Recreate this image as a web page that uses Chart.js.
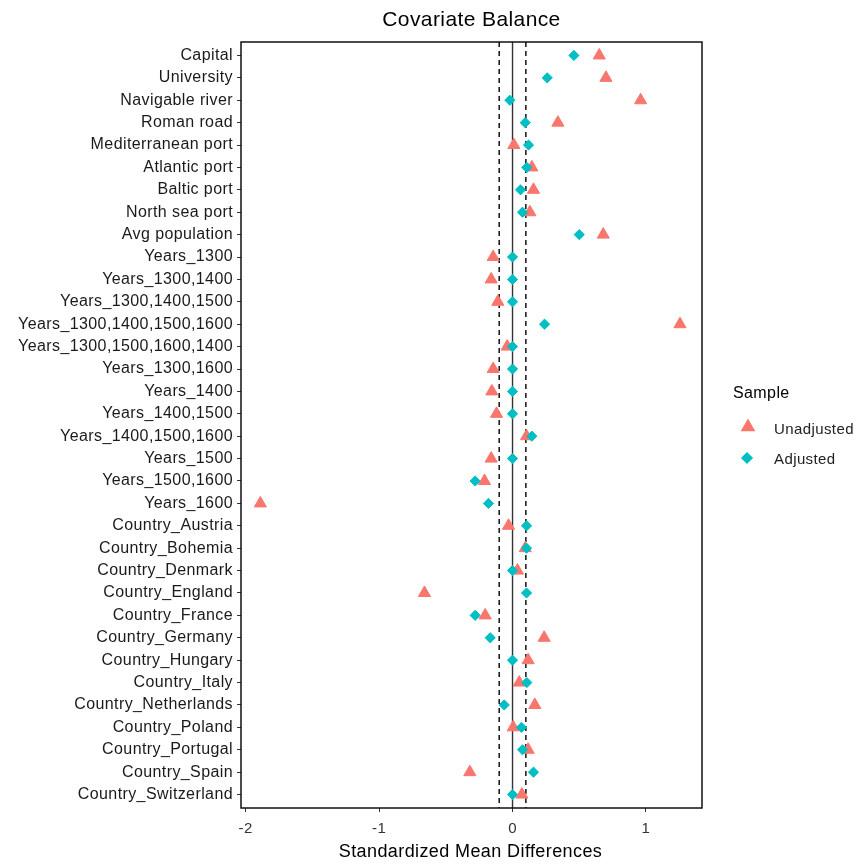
<!DOCTYPE html>
<html>
<head>
<meta charset="utf-8">
<script src="https://cdn.jsdelivr.net/npm/chart.js@4.4.1/dist/chart.umd.min.js"></script>
<style>
html,body{margin:0;padding:0;background:#fff;}
#wrap{width:862px;height:865px;position:relative;}
</style>
</head>
<body>
<div id="wrap"><canvas id="c"></canvas></div>
<script>
const chartTitle = "Covariate Balance";
const xAxisTitle = "Standardized Mean Differences";
const legendTitle = "Sample";
const seriesNames = ["Unadjusted", "Adjusted"];

const categories = [
  "Capital", "University", "Navigable river", "Roman road", "Mediterranean port",
  "Atlantic port", "Baltic port", "North sea port", "Avg population",
  "Years_1300", "Years_1300,1400", "Years_1300,1400,1500", "Years_1300,1400,1500,1600",
  "Years_1300,1500,1600,1400", "Years_1300,1600", "Years_1400", "Years_1400,1500",
  "Years_1400,1500,1600", "Years_1500", "Years_1500,1600", "Years_1600",
  "Country_Austria", "Country_Bohemia", "Country_Denmark", "Country_England",
  "Country_France", "Country_Germany", "Country_Hungary", "Country_Italy",
  "Country_Netherlands", "Country_Poland", "Country_Portugal", "Country_Spain",
  "Country_Switzerland"
];

const unadjusted = [
  0.65, 0.70, 0.96, 0.34, 0.01,
  0.145, 0.157, 0.13, 0.68,
  -0.145, -0.16, -0.11, 1.255,
  -0.04, -0.145, -0.155, -0.12,
  0.105, -0.16, -0.21, -1.89,
  -0.03, 0.095, 0.037, -0.66,
  -0.205, 0.237, 0.117, 0.05,
  0.167, 0.005, 0.117, -0.32,
  0.07
];

const adjusted = [
  0.46, 0.26, -0.02, 0.095, 0.12,
  0.107, 0.06, 0.075, 0.50,
  0.0, 0.0, 0.0, 0.24,
  0.0, 0.0, 0.0, 0.0,
  0.145, 0.0, -0.28, -0.18,
  0.105, 0.105, 0.0, 0.105,
  -0.28, -0.167, 0.0, 0.107,
  -0.062, 0.067, 0.075, 0.157,
  0.0
];

const xTicks = [-2, -1, 0, 1];
const zeroLine = 0;
const thresholds = [-0.1, 0.1];

const FONT = '"Liberation Sans", Arial, sans-serif';
const colUnadj = "#F8766D";
const colAdj = "#00BFC4";

const yMin = -0.6, yMax = categories.length - 1 + 0.6;

function vline(x, dash, color, width) {
  return {
    type: "line",
    data: [{x: x, y: yMin}, {x: x, y: yMax}],
    borderColor: color,
    borderWidth: width,
    borderDash: dash,
    pointRadius: 0,
    fill: false,
    order: 5
  };
}

const decor = {
  id: "decor",
  beforeDraw(chart) {
    chart.ctx.letterSpacing = "0.4px";
  },
  afterDraw(chart) {
    const ctx = chart.ctx, a = chart.chartArea;
    ctx.save();
    ctx.strokeStyle = "#111";
    ctx.lineWidth = 1.5;
    ctx.strokeRect(a.left, a.top, a.right - a.left, a.bottom - a.top);

    ctx.fillStyle = "#000";
    ctx.textAlign = "center";
    ctx.textBaseline = "middle";
    ctx.font = "21px " + FONT;
    ctx.fillText(chartTitle, (a.left + a.right) / 2, 20);
    ctx.font = "18px " + FONT;
    ctx.fillText(xAxisTitle, (a.left + a.right) / 2 - 1, 852);

    ctx.textAlign = "left";
    ctx.font = "16px " + FONT;
    ctx.fillText(legendTitle, 733, 394);
    ctx.font = "15px " + FONT;
    ctx.fillStyle = "#222";
    ctx.fillText(seriesNames[0], 774, 430);
    ctx.fillText(seriesNames[1], 774, 460);

    ctx.fillStyle = colUnadj; ctx.strokeStyle = colUnadj;
    Chart.helpers.drawPoint(ctx, {pointStyle: "triangle", radius: 7, borderWidth: 1, rotation: 0}, 748, 427);
    ctx.fillStyle = colAdj; ctx.strokeStyle = colAdj;
    Chart.helpers.drawPoint(ctx, {pointStyle: "rectRot", radius: 5, borderWidth: 1, rotation: 0}, 747, 458);
    ctx.restore();
  }
};

new Chart(document.getElementById("c"), {
  type: "scatter",
  data: {
    datasets: [
      {
        label: seriesNames[1],
        data: adjusted.map((v, i) => ({x: v, y: i})),
        pointStyle: "rectRot",
        pointRadius: 5.1,
        pointBorderWidth: 1,
        backgroundColor: colAdj,
        borderColor: colAdj,
        order: 0
      },
      {
        label: seriesNames[0],
        data: unadjusted.map((v, i) => ({x: v, y: i})),
        pointStyle: "triangle",
        pointRadius: 7,
        pointBorderWidth: 1,
        backgroundColor: colUnadj,
        borderColor: colUnadj,
        order: 1
      },
      vline(zeroLine, [], "#333", 1.4),
      vline(thresholds[0], [5, 4], "#000", 1.4),
      vline(thresholds[1], [5, 4], "#000", 1.4)
    ]
  },
  options: {
    responsive: true,
    maintainAspectRatio: false,
    animation: false,
    events: [],
    layout: {padding: {top: 42, right: 160, bottom: 0, left: 0}},
    plugins: {legend: {display: false}, tooltip: {enabled: false}, title: {display: false}},
    scales: {
      x: {
        type: "linear",
        min: -2.035,
        max: 1.42,
        afterFit(s) { s.height = 57; },
        afterBuildTicks(s) { s.ticks = xTicks.map(v => ({value: v})); },
        border: {display: false},
        grid: {drawOnChartArea: false, drawTicks: true, tickLength: 4, color: "#333", tickWidth: 1},
        ticks: {color: "#333", font: {family: FONT, size: 15}, padding: 8, maxRotation: 0}
      },
      y: {
        type: "linear",
        reverse: true,
        min: yMin,
        max: yMax,
        afterFit(s) { s.width = 241; },
        afterBuildTicks(s) { s.ticks = categories.map((c, i) => ({value: i})); },
        border: {display: false},
        grid: {drawOnChartArea: false, drawTicks: true, tickLength: 4, color: "#333", tickWidth: 1},
        ticks: {
          color: "#1a1a1a",
          font: {family: FONT, size: 16},
          padding: 4,
          autoSkip: false,
          callback: (v) => categories[v]
        }
      }
    }
  },
  plugins: [decor]
});
</script>
</body>
</html>
